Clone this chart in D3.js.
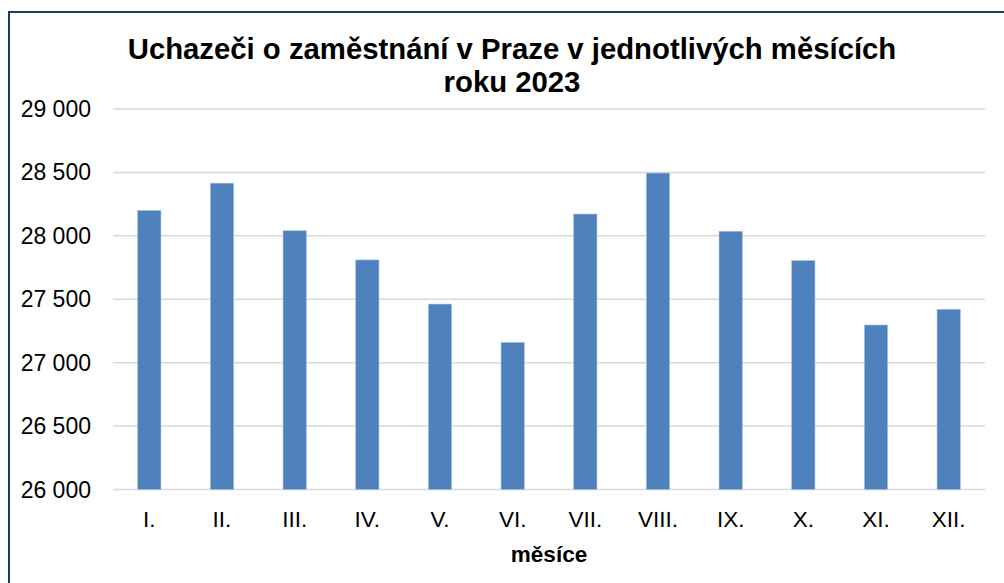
<!DOCTYPE html>
<html>
<head>
<meta charset="utf-8">
<script src="https://cdn.jsdelivr.net/npm/d3@7"></script>
<style>
  body { margin: 0; background: #fff; font-family: "Liberation Sans", Arial, sans-serif; }
  svg { display: block; }
</style>
</head>
<body>
<svg id="chart" width="1004" height="583"></svg>
<script>
const months = ["I.", "II.", "III.", "IV.", "V.", "VI.", "VII.", "VIII.", "IX.", "X.", "XI.", "XII."];
const applicants = [28200, 28415, 28040, 27810, 27462, 27160, 28172, 28495, 28036, 27805, 27297, 27421];
const yTicks = [26000, 26500, 27000, 27500, 28000, 28500, 29000];
const titleLines = ["Uchazeči o zaměstnání v Praze v jednotlivých měsících", "roku 2023"];
const xTitle = "měsíce";

const svg = d3.select("#chart");
const plotLeft = 113, plotRight = 985, plotTop = 109, plotBottom = 489.5;

// frame
svg.append("rect")
  .attr("x", 9).attr("y", 12)
  .attr("width", 1010).attr("height", 600)
  .attr("fill", "none")
  .attr("stroke", "#1f3864")
  .attr("stroke-width", 2);

const x = d3.scaleBand().domain(months).range([plotLeft, plotRight]).paddingInner(0.68).paddingOuter(0.34);
const y = d3.scaleLinear().domain([26000, 29000]).range([plotBottom, plotTop]);

const fmt = v => d3.format(",")(v).replace(",", " ");

// gridlines
svg.append("g")
  .selectAll("line")
  .data(yTicks)
  .join("line")
  .attr("x1", plotLeft).attr("x2", plotRight)
  .attr("y1", d => y(d)).attr("y2", d => y(d))
  .attr("stroke", "#d9d9d9")
  .attr("stroke-width", 1.5);

// y labels
svg.append("g")
  .selectAll("text")
  .data(yTicks)
  .join("text")
  .attr("x", 91)
  .attr("y", d => y(d) + 8)
  .attr("text-anchor", "end")
  .attr("font-size", 23)
  .attr("fill", "#000")
  .text(fmt);

// bars
svg.append("g")
  .selectAll("rect")
  .data(applicants)
  .join("rect")
  .attr("x", (d, i) => x(months[i]))
  .attr("width", x.bandwidth())
  .attr("y", d => y(d))
  .attr("height", d => plotBottom - y(d))
  .attr("fill", "#4f81bd")
  .attr("stroke", "#a7c0de")
  .attr("stroke-width", 0.6);

// x labels
svg.append("g")
  .selectAll("text")
  .data(months)
  .join("text")
  .attr("x", d => x(d) + x.bandwidth() / 2)
  .attr("y", 527)
  .attr("text-anchor", "middle")
  .attr("font-size", 22.5)
  .attr("fill", "#000")
  .text(d => d);

svg.append("text")
  .attr("x", (plotLeft + plotRight) / 2)
  .attr("y", 562)
  .attr("text-anchor", "middle")
  .attr("font-size", 22.5)
  .attr("font-weight", "bold")
  .text(xTitle);

svg.append("g")
  .selectAll("text")
  .data(titleLines)
  .join("text")
  .attr("x", 512)
  .attr("y", (d, i) => 59 + i * 33)
  .attr("text-anchor", "middle")
  .attr("font-size", 29.3)
  .attr("font-weight", "bold")
  .text(d => d);
</script>
</body>
</html>
